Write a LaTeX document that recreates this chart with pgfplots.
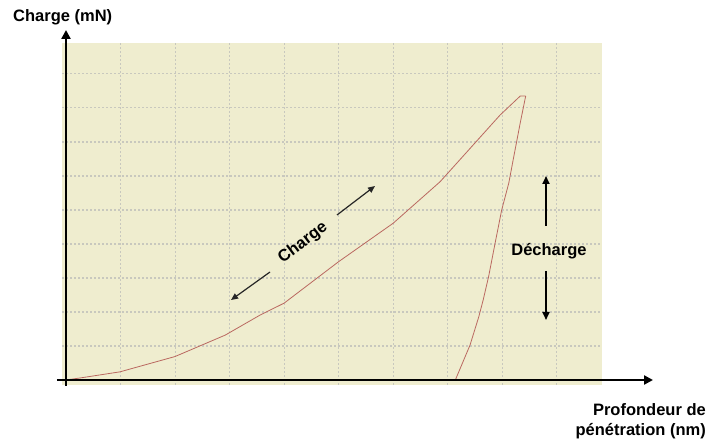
\documentclass[border=0pt]{standalone}
\usepackage{pgfplots}
\pgfplotsset{compat=1.18}
\usepackage{fontspec}
\setmainfont{Liberation Sans}
\usetikzlibrary{arrows.meta}
\definecolor{bgc}{RGB}{239,237,207}
\definecolor{gridc}{RGB}{200,200,190}
\definecolor{curvec}{RGB}{186,104,96}
\begin{document}
\begin{tikzpicture}[x=1pt,y=1pt]
\begin{axis}[
  anchor=origin,
  scale only axis, width=540pt, height=342pt,
  xmin=-0.073, xmax=9.83, ymin=-0.147, ymax=9.91,
  axis line style={draw=none},
  axis background/.style={fill=bgc},
  xtick={0,...,9}, ytick={0,...,9},
  xticklabels={}, yticklabels={},
  major tick length=0pt,
  grid=major,
  major grid style={gridc, dash pattern=on 2pt off 2pt, line width=1.1pt},
  clip=false,
]
\addplot[curvec, line width=0.8pt, no marks] coordinates {
(0,0) (0.26,0.06) (0.99,0.24) (2.0,0.69) (2.92,1.32) (3.56,1.91) (4.0,2.26)
(5.0,3.48) (6.0,4.61) (6.86,5.83) (7.96,7.79) (8.33,8.35) (8.43,8.35)
};
\addplot[curvec, line width=0.8pt, no marks] coordinates {
(8.43,8.35) (8.33,7.56) (8.20,6.47) (8.12,5.79) (7.99,5.0) (7.87,4.03)
(7.75,3.04) (7.65,2.35) (7.57,1.86) (7.41,1.03) (7.14,0)
};
\end{axis}
\begin{scope}[shift={(-66,380)}]
\useasboundingbox (0,0) rectangle (714,-443);
% axes with arrows
\draw[line width=2.6pt, -{Triangle[length=9pt,width=9pt]}] (57,-380) -- (653,-380);
\draw[line width=2.6pt, -{Triangle[length=9pt,width=9pt]}] (66,-386) -- (66,-30);
% labels
\node[font=\bfseries\fontsize{16.5}{18}\selectfont, anchor=west, inner sep=0pt] at (13,-17) {Charge (mN)};
\node[font=\bfseries\fontsize{16.5}{20.5}\selectfont, anchor=north east, align=right, inner sep=0pt] at (706,-403) {Profondeur de\\pénétration (nm)};
\node[font=\bfseries\fontsize{16.5}{18}\selectfont] at (549,-251) {Décharge};
\node[font=\bfseries\fontsize{16.5}{18}\selectfont, rotate=37, inner sep=0pt] at (303,-243) {Charge};
% annotation arrows
\draw[line width=1.8pt, -{Triangle[length=8pt,width=7pt]}] (546,-226) -- (546,-176);
\draw[line width=1.8pt, -{Triangle[length=8pt,width=7pt]}] (546,-271) -- (546,-320);
\draw[line width=1.2pt, black!85, -{Triangle[length=7pt,width=6pt]}] (337,-215) -- (375,-186);
\draw[line width=1.2pt, black!85, -{Triangle[length=7pt,width=6pt]}] (270,-272) -- (231,-300);
\end{scope}
\end{tikzpicture}
\end{document}
